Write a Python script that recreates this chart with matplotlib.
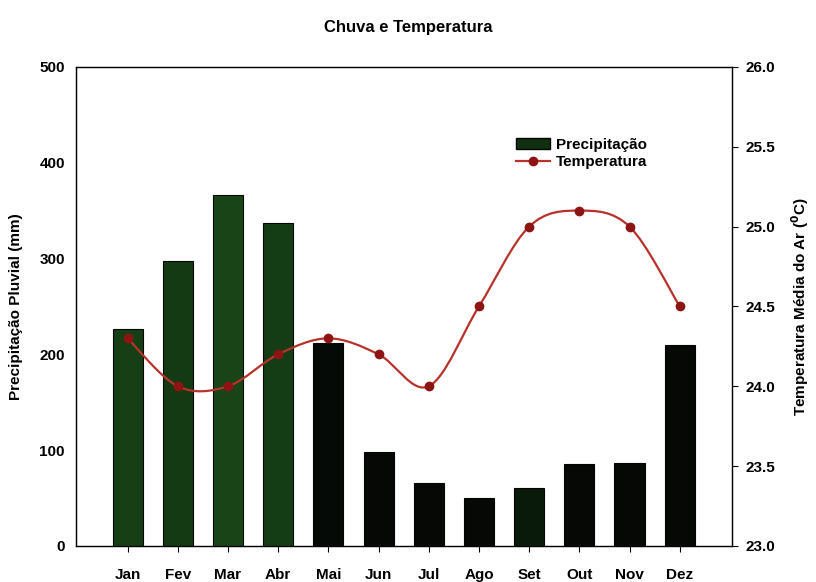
import numpy as np
import matplotlib.pyplot as plt
from matplotlib.path import Path
from matplotlib.patches import PathPatch, Patch
from matplotlib.lines import Line2D

plt.rcParams['font.family'] = ['Liberation Sans', 'DejaVu Sans']
plt.rcParams['font.weight'] = 'bold'

meses = ['Jan', 'Fev', 'Mar', 'Abr', 'Mai', 'Jun', 'Jul', 'Ago', 'Set', 'Out', 'Nov', 'Dez']
precipitacao = [226, 297, 366, 337, 212, 98, 66, 50, 60, 85, 87, 210]
temperatura = [24.3, 24.0, 24.0, 24.2, 24.3, 24.2, 24.0, 24.5, 25.0, 25.1, 25.0, 24.5]
cores_barras = ['#163f16', '#143a14', '#184418', '#153d15', '#060a06', '#050805',
                '#050805', '#050805', '#0a1a0a', '#050805', '#050805', '#050805']


def curva_suave(x, y):
    # Catmull-Rom -> Bezier so the line passes smoothly through every point
    verts = [(x[0], y[0])]
    codes = [Path.MOVETO]
    n = len(x)
    for i in range(n - 1):
        x0, y0 = (x[i - 1], y[i - 1]) if i > 0 else (x[i], y[i])
        x3, y3 = (x[i + 2], y[i + 2]) if i + 2 < n else (x[i + 1], y[i + 1])
        x1, y1, x2, y2 = x[i], y[i], x[i + 1], y[i + 1]
        verts += [(x1 + (x2 - x0) / 6, y1 + (y2 - y0) / 6),
                  (x2 - (x3 - x1) / 6, y2 - (y3 - y1) / 6),
                  (x2, y2)]
        codes += [Path.CURVE4] * 3
    return Path(verts, codes)


fig = plt.figure(figsize=(8.16, 5.82), dpi=100)
ax = fig.add_axes([0.093, 0.062, 0.804, 0.823])
x = np.arange(len(meses))

ax.bar(x, precipitacao, width=0.6, color=cores_barras, edgecolor='#030503', linewidth=0.8, zorder=2)
ax.set_ylim(0, 500)
ax.set_xlim(-1.03, len(meses) + 0.04)
ax.set_yticks([0, 100, 200, 300, 400, 500])
ax.tick_params(axis='y', length=0, labelsize=11, pad=8)
ax.set_xticks(x)
ax.set_xticklabels(meses)
ax.tick_params(axis='x', direction='out', length=4, labelsize=11, pad=12)
ax.set_ylabel('Precipitação Pluvial (mm)', fontsize=11, fontweight='bold', labelpad=12)
for s in ax.spines.values():
    s.set_linewidth(1.0)
    s.set_color('#222222')

ax2 = ax.twinx()
ax2.set_ylim(23.0, 26.0)
ax2.set_yticks([23.0, 23.5, 24.0, 24.5, 25.0, 25.5, 26.0])
ax2.set_yticklabels(['%.1f' % v for v in [23.0, 23.5, 24.0, 24.5, 25.0, 25.5, 26.0]])
ax2.tick_params(axis='y', direction='out', length=4, labelsize=11, pad=6)
ax2.set_ylabel('Temperatura Média do Ar ($\\mathbf{^0}$C)', fontsize=11, fontweight='bold', labelpad=10)

cor_linha = '#b8322b'
ax2.add_patch(PathPatch(curva_suave(x.astype(float), temperatura), facecolor='none',
                        edgecolor=cor_linha, linewidth=1.6, zorder=3))
ax2.plot(x, temperatura, linestyle='none', marker='o', markersize=6,
         color='#8e1414', zorder=4)

handles = [Patch(facecolor='#103010', edgecolor='#030503'),
           Line2D([], [], color=cor_linha, marker='o', markersize=6,
                  markerfacecolor='#8e1414', markeredgecolor='#8e1414', linewidth=1.6)]
ax2.legend(handles, ['Precipitação', 'Temperatura'], loc='upper left',
           bbox_to_anchor=(0.65, 0.88), frameon=False, fontsize=11,
           handlelength=2.2, handletextpad=0.4, labelspacing=0.2)

fig.text(0.5, 0.952, 'Chuva e Temperatura', ha='center', va='center',
         fontsize=12, fontweight='bold')

fig.savefig('out.png', dpi=100)
